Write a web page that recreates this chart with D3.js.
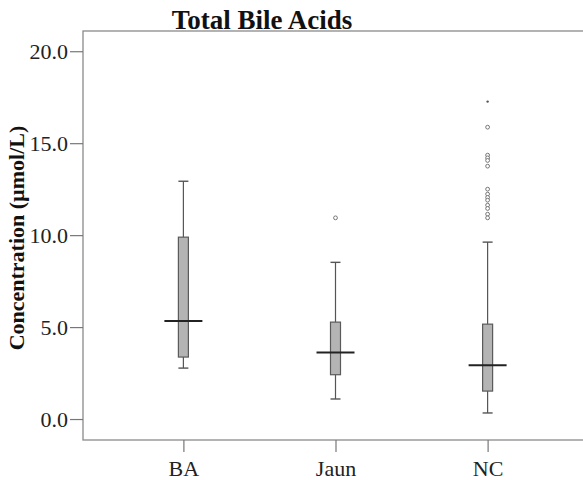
<!DOCTYPE html>
<html>
<head>
<meta charset="utf-8">
<script src="https://cdn.jsdelivr.net/npm/d3@7"></script>
<style>
  body { margin: 0; background: #fff; }
  svg text { font-family: "Liberation Serif", "Times New Roman", serif; }
</style>
</head>
<body>
<div id="chart"></div>
<script>
// box plot stats
const groups = ["BA", "Jaun", "NC"];
const q1 = [3.37, 2.41, 1.52];
const medians = [5.33, 3.62, 2.93];
const q3 = [9.89, 5.27, 5.16];
const whiskerLow = [2.77, 1.09, 0.33];
const whiskerHigh = [12.93, 8.52, 9.62];
// outliers (circles) and extremes (small star)
const outliers = [
  {group: "Jaun", value: 10.94},
  {group: "NC", value: 15.87},
  {group: "NC", value: 14.35},
  {group: "NC", value: 14.2},
  {group: "NC", value: 14.06},
  {group: "NC", value: 13.75},
  {group: "NC", value: 12.5},
  {group: "NC", value: 12.23},
  {group: "NC", value: 12.05},
  {group: "NC", value: 11.9},
  {group: "NC", value: 11.63},
  {group: "NC", value: 11.45},
  {group: "NC", value: 11.14},
  {group: "NC", value: 10.94}
];
const extremes = [{group: "NC", value: 17.26}];
const yTicks = [0, 5, 10, 15, 20];

const width = 583, height = 480;
const plotLeft = 83, plotTop = 31, plotRight = 588, plotBottom = 440;

const svg = d3.select("#chart").append("svg")
    .attr("width", width)
    .attr("height", height);

const y = d3.scaleLinear()
    .domain([-1.14, 21.1])
    .range([plotBottom, plotTop]);

const x = d3.scalePoint()
    .domain(groups)
    .range([plotLeft, plotRight])
    .padding(0.66);

const boxW = 10, medW = 38;

// frame
svg.append("rect")
    .attr("x", plotLeft).attr("y", plotTop)
    .attr("width", plotRight - plotLeft).attr("height", plotBottom - plotTop)
    .attr("fill", "none")
    .attr("stroke", "#8a8a8a")
    .attr("stroke-width", 1.3);

// y axis
const yAxis = svg.append("g")
    .attr("transform", "translate(" + plotLeft + ",0)")
    .call(d3.axisLeft(y).tickValues(yTicks).tickSize(13).tickPadding(2)
        .tickFormat(d3.format(".1f")));
yAxis.select(".domain").remove();
yAxis.selectAll("line").attr("stroke", "#777").attr("stroke-width", 1.2);
yAxis.selectAll("text").attr("font-size", 22).attr("fill", "#222")
    .attr("font-family", "Liberation Serif");

// x axis
const xAxis = svg.append("g")
    .attr("transform", "translate(0," + plotBottom + ")")
    .call(d3.axisBottom(x).tickSize(12).tickPadding(8));
xAxis.select(".domain").remove();
xAxis.selectAll("line").attr("stroke", "#777").attr("stroke-width", 1.2);
xAxis.selectAll("text").attr("font-size", 22).attr("fill", "#222")
    .attr("font-family", "Liberation Serif");

// boxes
const rows = groups.map((g, i) => ({
  key: g, q1: q1[i], med: medians[i], q3: q3[i], lo: whiskerLow[i], hi: whiskerHigh[i]
}));

const box = svg.selectAll("g.box")
    .data(rows)
    .enter()
    .append("g")
    .attr("class", "box");

// whisker stems
box.append("line")
    .attr("x1", d => x(d.key)).attr("x2", d => x(d.key))
    .attr("y1", d => y(d.hi)).attr("y2", d => y(d.q3))
    .attr("stroke", "#555").attr("stroke-width", 1.2);
box.append("line")
    .attr("x1", d => x(d.key)).attr("x2", d => x(d.key))
    .attr("y1", d => y(d.q1)).attr("y2", d => y(d.lo))
    .attr("stroke", "#555").attr("stroke-width", 1.2);

// caps
box.append("line")
    .attr("x1", d => x(d.key) - boxW / 2).attr("x2", d => x(d.key) + boxW / 2)
    .attr("y1", d => y(d.hi)).attr("y2", d => y(d.hi))
    .attr("stroke", "#555").attr("stroke-width", 1.4);
box.append("line")
    .attr("x1", d => x(d.key) - boxW / 2).attr("x2", d => x(d.key) + boxW / 2)
    .attr("y1", d => y(d.lo)).attr("y2", d => y(d.lo))
    .attr("stroke", "#555").attr("stroke-width", 1.4);

// box
box.append("rect")
    .attr("x", d => x(d.key) - boxW / 2)
    .attr("y", d => y(d.q3))
    .attr("width", boxW)
    .attr("height", d => y(d.q1) - y(d.q3))
    .attr("fill", "#b4b4b4")
    .attr("stroke", "#5a5a5a")
    .attr("stroke-width", 1.2);

// median
box.append("line")
    .attr("x1", d => x(d.key) - medW / 2).attr("x2", d => x(d.key) + medW / 2)
    .attr("y1", d => y(d.med)).attr("y2", d => y(d.med))
    .attr("stroke", "#222").attr("stroke-width", 2);

// outliers
svg.selectAll("circle.outlier")
    .data(outliers)
    .enter()
    .append("circle")
    .attr("class", "outlier")
    .attr("cx", d => x(d.group))
    .attr("cy", d => y(d.value))
    .attr("r", 1.9)
    .attr("fill", "#fff")
    .attr("stroke", "#777")
    .attr("stroke-width", 1);

svg.selectAll("circle.extreme")
    .data(extremes)
    .enter()
    .append("circle")
    .attr("class", "extreme")
    .attr("cx", d => x(d.group))
    .attr("cy", d => y(d.value))
    .attr("r", 1.2)
    .attr("fill", "#555");

// title
svg.append("text")
    .attr("x", 262)
    .attr("y", 29)
    .attr("text-anchor", "middle")
    .attr("font-size", 27)
    .attr("font-weight", "bold")
    .attr("fill", "#111")
    .text("Total Bile Acids");

// y label
svg.append("text")
    .attr("transform", "translate(24,238) rotate(-90)")
    .attr("text-anchor", "middle")
    .attr("font-size", 22)
    .attr("font-weight", "bold")
    .attr("fill", "#111")
    .text("Concentration (µmol/L)");
</script>
</body>
</html>
